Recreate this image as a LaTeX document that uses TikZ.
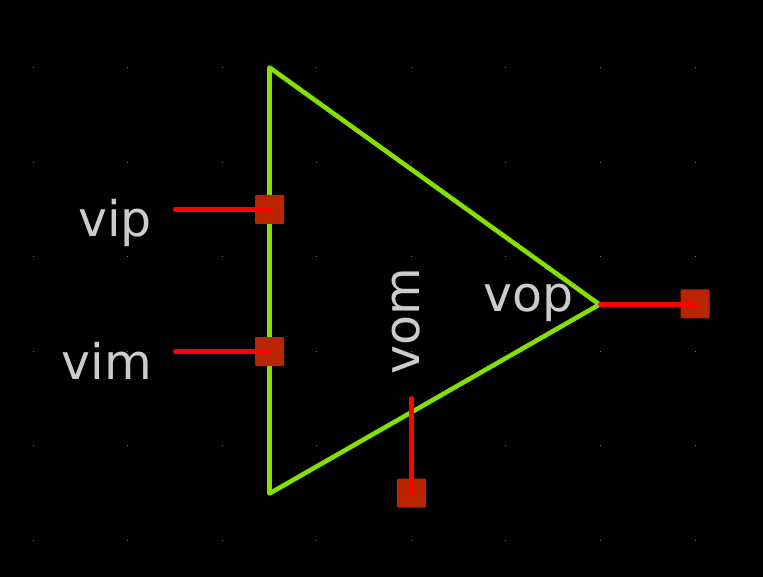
\documentclass[tikz,border=0pt]{standalone}
\usepackage{fontspec}
\setmainfont{DejaVu Sans}
\definecolor{SymGreen}{HTML}{84E000}
\definecolor{PinRed}{HTML}{FF0000}
\definecolor{PadRed}{HTML}{B82500}
\definecolor{LabelGrey}{HTML}{CCCCCC}
\definecolor{GridGrey}{HTML}{707070}
\tikzset{
    padbox/.style={fill=PadRed, draw=none, rounded corners=1pt, minimum size=29pt, inner sep=0pt},
    pinline/.style={PinRed, line width=5pt, line cap=round},
    pinlabel/.style={LabelGrey, font=\fontsize{49}{49}\selectfont, inner sep=0pt}
}

\begin{document}
\begin{tikzpicture}[x=1pt, y=-1pt]
    \useasboundingbox[fill=black] (0,0) rectangle (763,577);

    % Grid dots
    \foreach \gx in {33.5,127.5,222.5,316.5,411.5,505.5,600.5,695.5}
        \foreach \gy in {67.5,162.5,256.5,351.5,445.5,540.5}
            \fill[GridGrey] (\gx-0.5,\gy-0.5) rectangle (\gx+0.5,\gy+0.5);

    % Amplifier body
    \draw[SymGreen, line width=4.6pt, line join=round] (269.5,67.5) -- (599.5,304.5) -- (269.5,493.5) -- cycle;

    % Pads
    \node[padbox] (padvip) at (269.5,209.5) {};
    \node[padbox] (padvim) at (269.5,351.5) {};
    \node[padbox] (padvop) at (695,304) {};
    \node[padbox] (padvom) at (411.5,493) {};

    % Pin ends on the body side
    \coordinate (pinvip) at (175.5,209.5);
    \coordinate (pinvim) at (175.5,351.5);
    \coordinate (pinvop) at (600.5,304.5);
    \coordinate (pinvom) at (411.5,398.5);

    % Pins
    \draw[pinline] (pinvip) -- (padvip.center |- pinvip);
    \draw[pinline] (pinvim) -- (padvim.center |- pinvim);
    \draw[pinline] (pinvop) -- (padvop.center |- pinvop);
    \draw[pinline] (pinvom) -- (pinvom |- padvom.center);

    % Labels
    \node[pinlabel, anchor=base east] (lblvip) at (152,237) {vip};
    \node[pinlabel, anchor=base east] (lblvim) at (152,379) {vim};
    \node[pinlabel, anchor=base east] (lblvop) at (573.5,312) {vop};
    \node[pinlabel, anchor=base west, rotate=90] (lblvom) at (419.5,375) {vom};
\end{tikzpicture}
\end{document}
